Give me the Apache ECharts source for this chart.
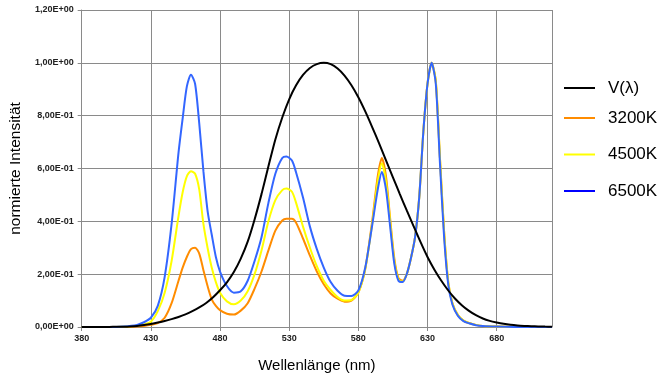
<!DOCTYPE html>
<html>
<head>
<meta charset="utf-8">
<script src="https://cdn.jsdelivr.net/npm/echarts@6/dist/echarts.min.js"></script>
<style>
html,body{margin:0;padding:0;background:#fff;}
#chart{width:665px;height:378px;}
</style>
</head>
<body>
<div id="chart"></div>
<script>
// V(lambda) wavelengths (nm) and values
var vWavelengths = [380,385,390,395,400,405,410,415,420,425,430,435,440,445,450,455,460,465,470,475,480,485,490,495,500,505,510,515,520,525,530,535,540,545,550,555,560,565,570,575,580,585,590,595,600,605,610,615,620,625,630,635,640,645,650,655,660,665,670,675,680,685,690,695,700,705,710,715,720];
var vLambda = [0.00004,0.00006,0.00012,0.0002,0.0004,0.0006,0.0012,0.0022,0.004,0.0073,0.0116,0.0168,0.023,0.0298,0.038,0.048,0.06,0.0739,0.091,0.1126,0.139,0.1693,0.208,0.2586,0.323,0.4073,0.503,0.6082,0.71,0.7932,0.862,0.9149,0.954,0.9803,0.995,1.0,0.995,0.9786,0.952,0.9154,0.87,0.8163,0.757,0.6949,0.631,0.5668,0.503,0.4412,0.381,0.321,0.265,0.217,0.175,0.1382,0.107,0.0816,0.061,0.0446,0.032,0.0232,0.017,0.0119,0.0082,0.0057,0.0041,0.0029,0.0021,0.0015,0.001];

// LED spectra wavelengths (nm)
var ledWavelengths = [380,400,410,420,425,430,435,440,445,450,453,456,459,462,465,468,471,474,477,480,485,490,495,500,505,510,515,520,525,528,532,535,540,545,550,555,560,565,570,575,580,585,590,594,597,600,603,606,609,612,615,618,621,624,627,630,633,636,639,642,645,648,652,656,660,665,670,680,700,720];
var led3200 = [0,0,0,0.002,0.004,0.008,0.015,0.035,0.09,0.175,0.225,0.265,0.295,0.3,0.278,0.215,0.155,0.105,0.08,0.064,0.05,0.047,0.062,0.09,0.145,0.21,0.29,0.365,0.403,0.41,0.41,0.395,0.335,0.27,0.21,0.162,0.127,0.107,0.096,0.1,0.13,0.22,0.4,0.57,0.64,0.57,0.41,0.26,0.185,0.175,0.2,0.26,0.34,0.49,0.74,0.92,1.0,0.93,0.64,0.36,0.17,0.09,0.045,0.024,0.015,0.008,0.004,0.002,0,0];
var led4500 = [0,0,0.001,0.005,0.01,0.02,0.06,0.13,0.25,0.42,0.51,0.57,0.59,0.58,0.52,0.39,0.3,0.225,0.17,0.13,0.097,0.086,0.1,0.135,0.2,0.29,0.4,0.48,0.518,0.524,0.512,0.47,0.38,0.3,0.23,0.175,0.14,0.113,0.1,0.102,0.13,0.22,0.39,0.55,0.62,0.55,0.4,0.25,0.18,0.172,0.2,0.26,0.34,0.49,0.74,0.92,1.0,0.93,0.64,0.36,0.17,0.09,0.045,0.024,0.015,0.008,0.004,0.002,0,0];
var led6500 = [0,0,0.002,0.008,0.018,0.035,0.08,0.19,0.39,0.66,0.79,0.91,0.955,0.92,0.77,0.59,0.44,0.35,0.265,0.21,0.155,0.13,0.135,0.175,0.25,0.34,0.47,0.58,0.64,0.645,0.63,0.585,0.49,0.38,0.295,0.225,0.17,0.137,0.118,0.117,0.138,0.225,0.385,0.52,0.587,0.52,0.38,0.24,0.175,0.17,0.2,0.26,0.34,0.49,0.74,0.92,1.0,0.92,0.62,0.34,0.16,0.085,0.042,0.022,0.014,0.007,0.004,0.002,0,0];

var seriesNames = ['V(λ)','3200K','4500K','6500K'];
var xTickLabels = ['380','430','480','530','580','630','680'];
var yTickLabels = ['0,00E+00','2,00E-01','4,00E-01','6,00E-01','8,00E-01','1,00E+00','1,20E+00'];

function pairs(xs, ys){ return xs.map(function(x,i){ return [x, ys[i]]; }); }

var chart = echarts.init(document.getElementById('chart'), null, {renderer:'canvas'});
var font = "'Liberation Sans', Arial, sans-serif";
var gridColor = '#8a8a8a';

var option = {
  animation: false,
  backgroundColor: '#ffffff',
  grid: {left: 79, right: 113, top: 10, bottom: 49, containLabel: false},
  legend: [
    {
      orient: 'vertical', left: 564, top: 79, padding: 0,
      icon: 'rect', itemWidth: 31, itemHeight: 2, itemGap: 18,
      textStyle: {fontFamily: font, fontSize: 17, color: '#000', lineHeight: 18, padding: [0,0,0,8]},
      data: [{name: seriesNames[0], itemStyle: {color: '#000000'}}]
    },
    {
      orient: 'vertical', left: 564, top: 109, padding: 0,
      icon: 'rect', itemWidth: 31, itemHeight: 2, itemGap: 18.5,
      textStyle: {fontFamily: font, fontSize: 17, color: '#000', lineHeight: 18, padding: [0,0,0,8]},
      data: [
        {name: seriesNames[1], itemStyle: {color: '#ff8c00'}},
        {name: seriesNames[2], itemStyle: {color: '#ffff00'}},
        {name: seriesNames[3], itemStyle: {color: '#0000ff'}}
      ]
    }
  ],
  xAxis: {
    type: 'value', min: 380, max: 720, interval: 50,
    name: 'Wellenlänge (nm)', nameLocation: 'middle', nameGap: 31,
    nameTextStyle: {fontFamily: font, fontSize: 15, color: '#000'},
    axisLine: {show: true, lineStyle: {color: gridColor, width: 1}},
    axisTick: {show: true, length: 4, lineStyle: {color: gridColor}},
    splitLine: {show: true, lineStyle: {color: gridColor, width: 1}},
    axisLabel: {
      fontFamily: font, fontSize: 9, fontWeight: 'bold', color: '#222', margin: 7, showMaxLabel: false,
      formatter: function(v){ var i = Math.round((v-380)/50); return (Math.abs(v-380-i*50)<1e-6 && xTickLabels[i]) ? xTickLabels[i] : ''; }
    }
  },
  yAxis: {
    type: 'value', min: 0, max: 1.2, interval: 0.2,
    name: 'normierte Intensität', nameLocation: 'middle', nameGap: 53, nameRotate: 90,
    nameTextStyle: {fontFamily: font, fontSize: 15.5, color: '#000'},
    axisLine: {show: true, lineStyle: {color: gridColor, width: 1}},
    axisTick: {show: true, length: 4, lineStyle: {color: gridColor}},
    splitLine: {show: true, lineStyle: {color: gridColor, width: 1}},
    axisLabel: {
      fontFamily: font, fontSize: 9, fontWeight: 'bold', color: '#222', margin: 8,
      formatter: function(v){ var i = Math.round(v/0.2); return yTickLabels[i] || ''; }
    }
  },
  series: [
    {name: seriesNames[1], type: 'line', data: pairs(ledWavelengths, led3200), showSymbol: false, smooth: 0.25,
     lineStyle: {color: '#ff8c00', width: 2}, itemStyle: {color: '#ff8c00'}, z: 3},
    {name: seriesNames[2], type: 'line', data: pairs(ledWavelengths, led4500), showSymbol: false, smooth: 0.25,
     lineStyle: {color: '#ffff00', width: 2}, itemStyle: {color: '#ffff00'}, z: 4},
    {name: seriesNames[3], type: 'line', data: pairs(ledWavelengths, led6500), showSymbol: false, smooth: 0.25,
     lineStyle: {color: '#3366ff', width: 2}, itemStyle: {color: '#0000ff'}, z: 5},
    {name: seriesNames[0], type: 'line', data: pairs(vWavelengths, vLambda), showSymbol: false, smooth: 0.25,
     lineStyle: {color: '#000000', width: 2}, itemStyle: {color: '#000000'}, z: 6}
  ]
};
chart.setOption(option);
</script>
</body>
</html>
